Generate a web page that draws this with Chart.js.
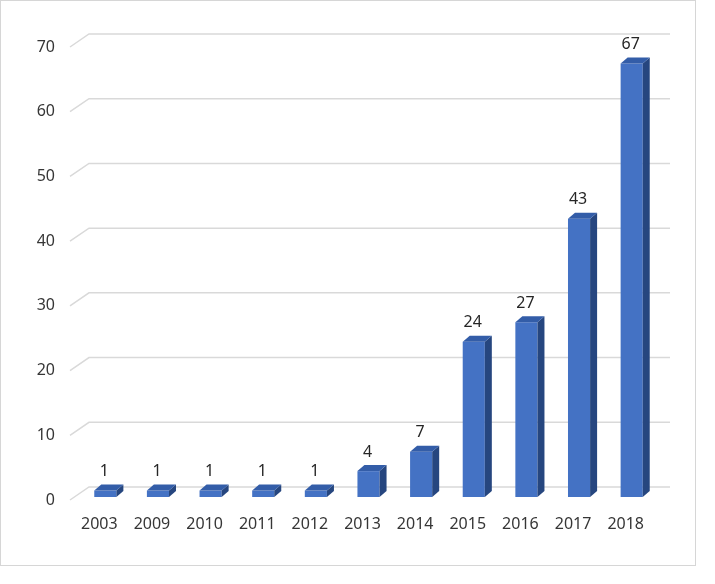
<!DOCTYPE html>
<html>
<head>
<meta charset="utf-8">
<script src="https://cdn.jsdelivr.net/npm/chart.js@4/dist/chart.umd.min.js"></script>
<style>
  html, body { margin: 0; padding: 0; background: #ffffff; }
  #wrap { position: absolute; left: 0; top: 0; width: 715px; height: 584px; }
  #frame { position: absolute; left: 0; top: 0; width: 694px; height: 564px; border: 1px solid #d6d6d6; pointer-events: none; }
  canvas { position: absolute; left: 0; top: 0; }
</style>
</head>
<body>
<div id="wrap">
  <canvas id="c" width="715" height="584"></canvas>
  <div id="frame"></div>
</div>
<script>
const categories = ["2003", "2009", "2010", "2011", "2012", "2013", "2014", "2015", "2016", "2017", "2018"];
const counts = [1, 1, 1, 1, 1, 4, 7, 24, 27, 43, 67];
const yTicks = [0, 10, 20, 30, 40, 50, 60, 70];

const DEPTH_X = 7, DEPTH_Y = 6;
const WALL_X = 10, WALL_Y = 10;
const FONT = '"Noto Sans", "Open Sans", sans-serif';

const threeD = {
  id: 'threeD',
  beforeDatasetsDraw(chart) {
    const ctx = chart.ctx;
    const y = chart.scales.y;
    const area = chart.chartArea;
    ctx.save();
    ctx.strokeStyle = '#d9d9d9';
    ctx.lineWidth = 1.5;
    yTicks.forEach(v => {
      const py = y.getPixelForValue(v);
      ctx.beginPath();
      ctx.moveTo(area.left - 9, py + 3);
      ctx.lineTo(area.left + WALL_X, py - WALL_Y);
      ctx.lineTo(area.right + 12, py - WALL_Y);
      ctx.stroke();
    });
    ctx.restore();
  },
  afterDatasetsDraw(chart) {
    const ctx = chart.ctx;
    const meta = chart.getDatasetMeta(0);
    ctx.save();
    meta.data.forEach((bar, i) => {
      const p = bar.getProps(['x', 'y', 'base', 'width'], true);
      const l = p.x - p.width / 2, r = p.x + p.width / 2;
      const t = p.y, b = p.base;
      // side face
      ctx.fillStyle = '#26467f';
      ctx.beginPath();
      ctx.moveTo(r, t);
      ctx.lineTo(r + DEPTH_X, t - DEPTH_Y);
      ctx.lineTo(r + DEPTH_X, b - DEPTH_Y);
      ctx.lineTo(r, b);
      ctx.closePath();
      ctx.fill();
      // top face
      ctx.fillStyle = '#335da8';
      ctx.beginPath();
      ctx.moveTo(l, t);
      ctx.lineTo(l + DEPTH_X, t - DEPTH_Y);
      ctx.lineTo(r + DEPTH_X, t - DEPTH_Y);
      ctx.lineTo(r, t);
      ctx.closePath();
      ctx.fill();
      // value label
      ctx.fillStyle = '#262626';
      ctx.font = '16px ' + FONT;
      ctx.textAlign = 'center';
      ctx.textBaseline = 'bottom';
      ctx.fillText(String(counts[i]), p.x - 1, t - 11);
    });
    ctx.restore();
  }
};

new Chart(document.getElementById('c'), {
  type: 'bar',
  data: {
    labels: categories,
    datasets: [{
      data: counts,
      backgroundColor: '#4472c4',
      borderWidth: 0,
      barPercentage: 0.42,
      categoryPercentage: 1.0
    }]
  },
  options: {
    responsive: false,
    animation: false,
    devicePixelRatio: 1,
    layout: { padding: { left: 0, right: 57, top: 44, bottom: 0 } },
    plugins: { legend: { display: false }, tooltip: { enabled: false } },
    scales: {
      x: {
        grid: { display: false, drawTicks: false },
        border: { display: false },
        ticks: { color: '#363636', font: { size: 16, family: FONT }, padding: 18, labelOffset: -6, maxRotation: 0, autoSkip: false },
        afterFit(s) { s.height = 87; }
      },
      y: {
        min: 0, max: 70,
        grid: { display: false, drawTicks: false },
        border: { display: false },
        ticks: { stepSize: 10, color: '#363636', font: { size: 16, family: FONT }, padding: 24, labelOffset: 3 },
        afterFit(s) { s.width = 79; }
      }
    }
  },
  plugins: [threeD]
});
</script>
</body>
</html>
